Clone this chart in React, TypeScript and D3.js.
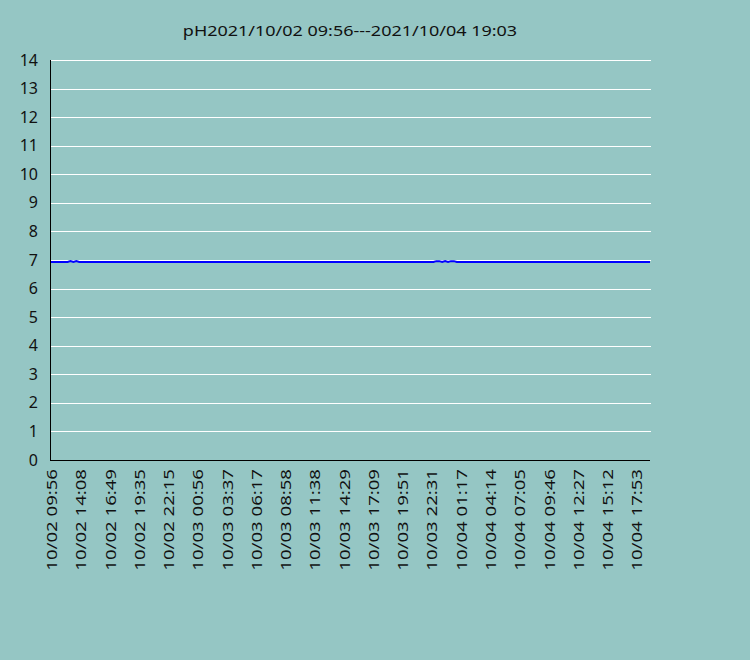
import React from "react";
import * as d3 from "d3";

const title = "pH2021/10/02 09:56---2021/10/04 19:03";

const xTickLabels = [
  "10/02 09:56", "10/02 14:08", "10/02 16:49", "10/02 19:35", "10/02 22:15",
  "10/03 00:56", "10/03 03:37", "10/03 06:17", "10/03 08:58", "10/03 11:38",
  "10/03 14:29", "10/03 17:09", "10/03 19:51", "10/03 22:31", "10/04 01:17",
  "10/04 04:14", "10/04 07:05", "10/04 09:46", "10/04 12:27", "10/04 15:12",
  "10/04 17:53",
];

const yTicks = [0, 1, 2, 3, 4, 5, 6, 7, 8, 9, 10, 11, 12, 13, 14];

// pH readings, one per sample (10 samples between labelled ticks)
const phValues = [
  6.93, 6.93, 6.93, 6.93, 6.93, 6.93, 6.93, 6.96, 6.93, 6.96,
  6.93, 6.93, 6.93, 6.93, 6.93, 6.93, 6.93, 6.93, 6.93, 6.93,
  6.93, 6.93, 6.93, 6.93, 6.93, 6.93, 6.93, 6.93, 6.93, 6.93,
  6.93, 6.93, 6.93, 6.93, 6.93, 6.93, 6.93, 6.93, 6.93, 6.93,
  6.93, 6.93, 6.93, 6.93, 6.93, 6.93, 6.93, 6.93, 6.93, 6.93,
  6.93, 6.93, 6.93, 6.93, 6.93, 6.93, 6.93, 6.93, 6.93, 6.93,
  6.93, 6.93, 6.93, 6.93, 6.93, 6.93, 6.93, 6.93, 6.93, 6.93,
  6.93, 6.93, 6.93, 6.93, 6.93, 6.93, 6.93, 6.93, 6.93, 6.93,
  6.93, 6.93, 6.93, 6.93, 6.93, 6.93, 6.93, 6.93, 6.93, 6.93,
  6.93, 6.93, 6.93, 6.93, 6.93, 6.93, 6.93, 6.93, 6.93, 6.93,
  6.93, 6.93, 6.93, 6.93, 6.93, 6.93, 6.93, 6.93, 6.93, 6.93,
  6.93, 6.93, 6.93, 6.93, 6.93, 6.93, 6.93, 6.93, 6.93, 6.93,
  6.93, 6.93, 6.93, 6.93, 6.93, 6.93, 6.93, 6.93, 6.93, 6.93,
  6.93, 6.93, 6.96, 6.96, 6.93, 6.96, 6.93, 6.96, 6.96, 6.93,
  6.93, 6.93, 6.93, 6.93, 6.93, 6.93, 6.93, 6.93, 6.93, 6.93,
  6.93, 6.93, 6.93, 6.93, 6.93, 6.93, 6.93, 6.93, 6.93, 6.93,
  6.93, 6.93, 6.93, 6.93, 6.93, 6.93, 6.93, 6.93, 6.93, 6.93,
  6.93, 6.93, 6.93, 6.93, 6.93, 6.93, 6.93, 6.93, 6.93, 6.93,
  6.93, 6.93, 6.93, 6.93, 6.93, 6.93, 6.93, 6.93, 6.93, 6.93,
  6.93, 6.93, 6.93, 6.93, 6.93, 6.93, 6.93, 6.93, 6.93, 6.93,
  6.93, 6.93, 6.93, 6.93, 6.93, 6.93,
];

const samplesPerLabel = 10;

export default function App() {
  const W = 750, H = 660;
  const left = 50, right = 650, top = 60, bottom = 460;
  const font = "'Noto Sans', 'Open Sans', sans-serif";

  const x = d3.scaleLinear().domain([0, phValues.length - 1]).range([left, right]);
  const y = d3.scaleLinear().domain([0, 14]).range([bottom, top]);

  const line = d3
    .line<number>()
    .x((_, i) => x(i))
    .y((d) => y(d));

  return (
    <svg
      width={W}
      height={H}
      style={{ position: "fixed", left: 0, top: 0, background: "rgb(149,198,196)" }}
    >
      <rect x={0} y={0} width={W} height={H} fill="rgb(149,198,196)" />
      <text
        transform="translate(350,36) scale(1.2,1)"
        textAnchor="middle"
        fontFamily={font}
        fontSize={15}
        fill="#111"
      >
        {title}
      </text>
      {yTicks.filter((t) => t > 0).map((t) => (
        <line
          key={"g" + t}
          x1={left}
          x2={right + 1}
          y1={Math.round(y(t)) + 0.5}
          y2={Math.round(y(t)) + 0.5}
          stroke="#ffffff"
          strokeWidth={1}
        />
      ))}
      {yTicks.map((t) => (
        <text
          key={"y" + t}
          x={38}
          y={y(t)}
          dy="0.35em"
          textAnchor="end"
          fontFamily={font}
          fontSize={16}
          fill="#111"
        >
          {t}
        </text>
      ))}
      <path
        d={line(phValues) || ""}
        fill="none"
        stroke="#0000ff"
        strokeWidth={2}
      />
      <line x1={left + 0.5} x2={left + 0.5} y1={top} y2={bottom} stroke="#000" strokeWidth={1} />
      <line x1={left} x2={right} y1={bottom + 0.5} y2={bottom + 0.5} stroke="#000" strokeWidth={1} />
      {xTickLabels.map((lab, i) => {
        const tx = x(i * samplesPerLabel);
        return (
          <text
            key={"x" + i}
            transform={`translate(${tx + 7},${469}) rotate(-90) scale(1.24,1)`}
            textAnchor="end"
            fontFamily={font}
            fontSize={15}
            fill="#111"
          >
            {lab}
          </text>
        );
      })}
    </svg>
  );
}
